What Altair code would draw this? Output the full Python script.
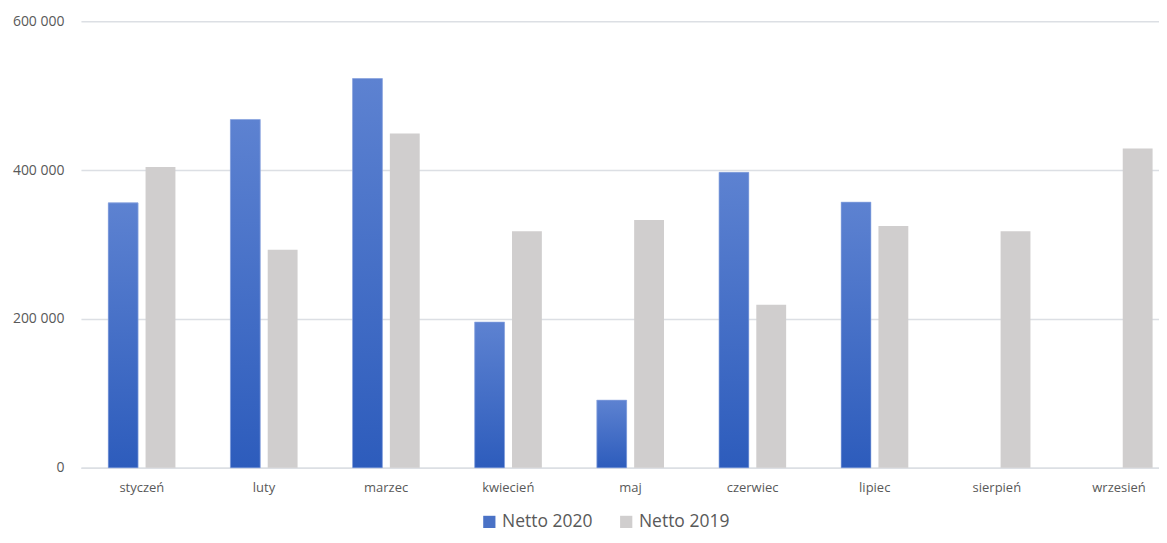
import altair as alt
import pandas as pd

months = ["styczeń", "luty", "marzec", "kwiecień", "maj", "czerwiec", "lipiec", "sierpień", "wrzesień"]
netto_2020 = [356000, 468000, 523000, 196000, 91000, 397000, 357000, None, None]
netto_2019 = [404000, 293000, 449000, 318000, 333000, 219000, 325000, 318000, 429000]
series = ["Netto 2020", "Netto 2019"]
colors = ["#4A72C6", "#D0CECE"]

rows = []
for i, m in enumerate(months):
    rows.append({"month": m, "series": series[0], "value": netto_2020[i]})
    rows.append({"month": m, "series": series[1], "value": netto_2019[i]})
df = pd.DataFrame(rows)

FONT = "Open Sans"
LABEL_COLOR = "#595959"
GRID = "#DCDFE4"

x_enc = alt.X("month:N", sort=months, title=None,
              scale=alt.Scale(paddingInner=0.45, paddingOuter=0.138, align=0.81),
              axis=alt.Axis(labelAngle=0, ticks=False, domain=True, domainColor=GRID,
                            domainWidth=1.5, labelPadding=14, labelFontSize=13,
                            labelColor=LABEL_COLOR, labelFont=FONT, grid=False))
y_enc = alt.Y("value:Q", title=None,
              scale=alt.Scale(domain=[0, 600000], nice=False),
              axis=alt.Axis(values=[0, 200000, 400000, 600000], domain=False, ticks=False,
                            gridColor=GRID, gridWidth=1.5, labelPadding=17,
                            labelFontSize=14, labelColor=LABEL_COLOR, labelFont=FONT,
                            minExtent=60, maxExtent=60,
                            labelExpr="replace(format(datum.value, ',d'), ',', ' ')"))
xoff = alt.XOffset("series:N", sort=series,
                   scale=alt.Scale(domain=series, paddingInner=0.2, paddingOuter=0))

base = alt.Chart(df).mark_bar().encode(
    x=x_enc,
    y=y_enc,
    xOffset=xoff,
    color=alt.Color("series:N", sort=series,
                    scale=alt.Scale(domain=series, range=colors),
                    legend=alt.Legend(title=None, orient="none", legendX=400, legendY=492,
                                      direction="horizontal", symbolType="square",
                                      symbolSize=150, symbolStrokeWidth=0,
                                      labelFontSize=17.5, labelFont=FONT, labelColor=LABEL_COLOR,
                                      columnPadding=24, labelOffset=4)),
)

gradient = {
    "gradient": "linear", "x1": 0, "y1": 0, "x2": 0, "y2": 1,
    "stops": [{"offset": 0, "color": "#5D82D1"}, {"offset": 1, "color": "#2D5CBC"}],
}

over = alt.Chart(df).transform_filter(
    alt.datum.series == "Netto 2020"
).mark_bar(fill=gradient, stroke="#9FB5E6", strokeWidth=0.6).encode(
    x=alt.X("month:N", sort=months),
    y=alt.Y("value:Q"),
    xOffset=alt.XOffset("series:N", sort=series),
)

chart = alt.layer(base, over).properties(
    width=1079, height=447,
    autosize=alt.AutoSizeParams(type="none"),
    padding={"left": 73, "top": 13, "right": 0, "bottom": 67},
).configure_view(stroke=None)

chart.save("out.html", embed_options={"renderer": "svg", "actions": False})
